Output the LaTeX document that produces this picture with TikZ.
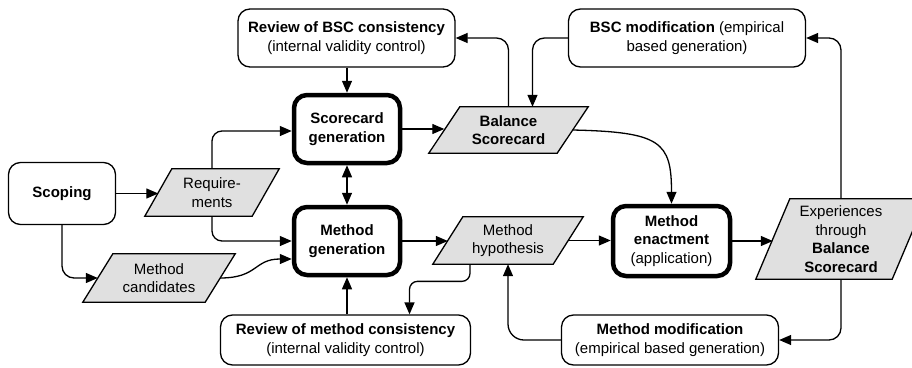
\documentclass[tikz,border=0pt]{standalone}
\usepackage{fontspec}
\setmainfont{Liberation Sans}
\usetikzlibrary{arrows.meta,backgrounds,calc}
\definecolor{pgray}{RGB}{224,224,224}
\begin{document}
\begin{tikzpicture}[x=1pt,y=-1pt,
  every node/.style={font=\fontsize{15}{18.5}\selectfont, align=center, inner sep=0pt},
  thinbox/.style={draw, line width=1.3pt, rounded corners=12pt},
  thickbox/.style={draw, line width=4.5pt, rounded corners=13pt, minimum width=106pt, minimum height=68pt},
  para/.style={},
  pshape/.style={fill=pgray, draw, line width=1.3pt, line join=miter},
  arr/.style={draw, line width=1.3pt, -{Triangle[length=12pt,width=10pt]}},
  darr/.style={draw, line width=1.3pt, {Triangle[length=12pt,width=10pt]}-{Triangle[length=12pt,width=10pt]}}
]
\useasboundingbox (0,0) rectangle (912,367);

% rounded boxes
\node[thinbox, minimum width=217pt, minimum height=58pt] (rbsc) at (346.5,38)
  {\textbf{Review of BSC consistency}\\(internal validity control)};
\node[thinbox, minimum width=237pt, minimum height=58pt] (bscm) at (687,38)
  {\textbf{BSC modification} (empirical\\based generation)};
\node[thinbox, minimum width=107pt, minimum height=62pt] (scop) at (62,193.5)
  {\textbf{Scoping}};
\node[thinbox, minimum width=250pt, minimum height=50pt] (rmc) at (345.5,340)
  {\textbf{Review of method consistency}\\(internal validity control)};
\node[thinbox, minimum width=217pt, minimum height=50pt] (mm) at (670,340)
  {\textbf{Method modification}\\(empirical based generation)};

\node[thickbox] (sg) at (347,129) {\textbf{Scorecard}\\\textbf{generation}};
\node[thickbox] (mg) at (347,241) {\textbf{Method}\\\textbf{generation}};
\node[thickbox, minimum width=117pt, minimum height=70pt] (me) at (671.5,241)
  {\textbf{Method}\\\textbf{enactment}\\(application)};

% parallelogram data nodes
\node[para, minimum width=107pt, minimum height=47pt] (req) at (212,192.5) {Require-\\ments};
\node[para, minimum width=122pt, minimum height=48pt] (cand) at (159,278) {Method\\candidates};
\node[para, minimum width=128pt, minimum height=46pt] (bal) at (508.5,130) {\textbf{Balance}\\\textbf{Scorecard}};
\node[para, minimum width=120pt, minimum height=47pt] (hyp) at (508,240.5) {Method\\hypothesis};
\node[para, minimum width=136pt, minimum height=80pt] (exp) at (841,239)
  {Experiences\\through\\\textbf{Balance}\\\textbf{Scorecard}};

\begin{scope}[on background layer]
\foreach \n/\o in {req/27,cand/30,bal/31,hyp/30,exp/34}{
  \path[pshape] ([xshift={\o*0.5pt}]\n.north west) -- ([xshift={\o*0.5pt}]\n.north east)
    -- ([xshift={-\o*0.5pt}]\n.south east) -- ([xshift={-\o*0.5pt}]\n.south west) -- cycle;
}
\end{scope}

% connectors
\draw[arr] (scop.east) -- (scop.east -| req.west);
\draw[arr, rounded corners=10pt] (req.north) |- ([yshift=-2pt]sg.west);
\draw[arr, rounded corners=10pt] (req.south) |- (mg.west);
\draw[arr, rounded corners=12pt] (scop.south) |- (cand.west);
\draw[arr] (cand.east) .. controls +(38,0) and +(-38,0) .. ([yshift=-18pt]mg.west);
\draw[darr] (sg.south) -- (mg.north);
\draw[arr] (rbsc.south -| sg.north) -- (sg.north);
\draw[arr] (mg.south |- rmc.north) -- (mg.south);
\draw[arr] (sg.east) -- (sg.east -| bal.west);
\draw[arr, rounded corners=12pt] (bal.north) |- (rbsc.east);
\draw[arr, rounded corners=12pt] (bscm.west) -| ([xshift=24pt]bal.north);
\draw[arr] (bal.east) .. controls +(88,2) and +(0,-62) .. (me.north);
\draw[arr] (mg.east) -- (mg.east -| hyp.west);
\draw[arr] (hyp.east) -- (hyp.east -| me.west);
\draw[arr] (me.east) -- (me.east -| exp.west);
\draw[arr, rounded corners=12pt] (exp.north) |- (bscm.east);
\draw[arr, rounded corners=12pt] (exp.south) |- (mm.east);
\draw[arr, rounded corners=16pt] (mm.west) -| (hyp.south);
\draw[arr, rounded corners=8pt] ([xshift=-38pt]hyp.south) |- ([xshift=64pt,yshift=33pt]rmc.north) -- ([xshift=64pt]rmc.north);
\end{tikzpicture}
\end{document}
